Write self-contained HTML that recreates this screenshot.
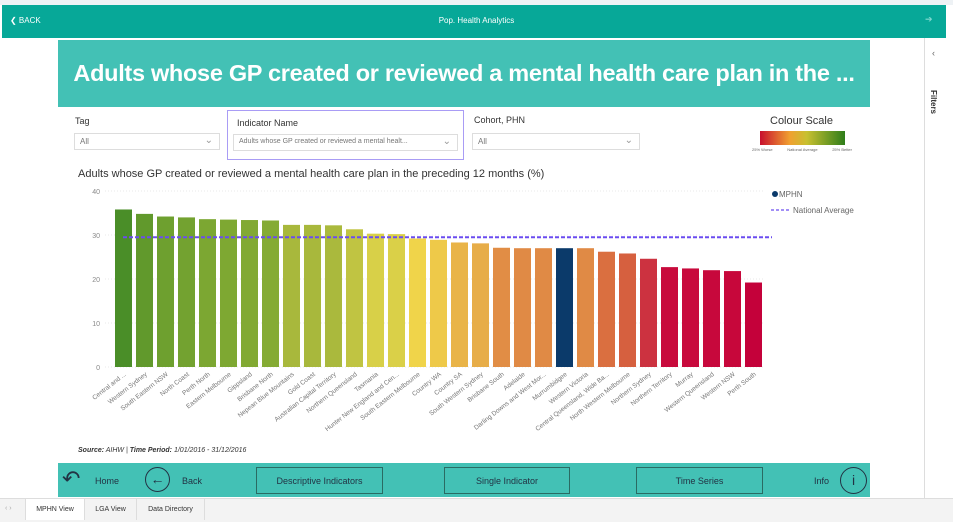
<!DOCTYPE html>
<html><head><meta charset="utf-8">
<style>
*{box-sizing:border-box;margin:0;padding:0}
body{width:953px;height:522px;background:#fff;font-family:"Liberation Sans",sans-serif;position:relative;overflow:hidden}
.abs{position:absolute}
.dd{position:absolute;border:1px solid #ddd;height:17px;font-size:8px;color:#777;padding:3px 5px;background:#fff}
.dd span{position:absolute;right:6px;top:1px;font-size:10px;color:#999}
.navbtn{position:absolute;top:467px;height:27px;border:1px solid #2a6b63;color:#234;font-size:9px;text-align:center;line-height:26px}
</style></head><body>
<div class="abs" style="left:0;top:0;width:953px;height:5px;background:#eef2f5"></div>
<div class="abs" style="left:2px;top:5px;width:944px;height:33px;background:#07a898"></div>
<div class="abs" style="left:10px;top:16px;color:#fff;font-size:8px">❮ BACK</div>
<div class="abs" style="left:0;width:953px;top:16px;text-align:center;color:#fff;font-size:8px">Pop. Health Analytics</div>
<div class="abs" style="left:925px;top:14px;color:#7fd8cf;font-size:9px">➔</div>
<div class="abs" style="left:924px;top:38px;width:29px;height:460px;border-left:1px solid #ddd;background:#fff"></div>
<div class="abs" style="left:929px;top:90px;font-size:8px;font-weight:bold;writing-mode:vertical-rl;color:#333">Filters</div>
<div class="abs" style="left:932px;top:48px;font-size:9px;color:#666">‹</div>
<div class="abs" style="left:58px;top:40px;width:812px;height:67px;background:#43c1b5"></div>
<div class="abs" style="left:58px;top:60px;width:812px;text-align:center;color:#fff;font-size:23.5px;font-weight:bold;white-space:nowrap;letter-spacing:-0.3px">Adults whose GP created or reviewed a mental health care plan in the ...</div>
<div class="abs" style="left:75px;top:116px;font-size:9px;color:#333">Tag</div>
<div class="dd" style="left:74px;top:133px;width:146px">All<span>⌄</span></div>
<div class="abs" style="left:227px;top:110px;width:237px;height:50px;border:1px solid #a99cf5"></div>
<div class="abs" style="left:237px;top:118px;font-size:9px;color:#333">Indicator Name</div>
<div class="dd" style="left:233px;top:134px;width:225px;font-size:7px">Adults whose GP created or reviewed a mental healt...<span>⌄</span></div>
<div class="abs" style="left:474px;top:115px;font-size:9px;color:#333">Cohort, PHN</div>
<div class="dd" style="left:472px;top:133px;width:168px">All<span>⌄</span></div>
<div class="abs" style="left:770px;top:115px;font-size:11px;color:#333">Colour Scale</div>
<div class="abs" style="left:760px;top:131px;width:85px;height:14px;background:linear-gradient(90deg,#c8102e,#f0a030 35%,#c8c030 55%,#2e7d1a)"></div>
<div class="abs" style="left:752px;top:147px;width:100px;font-size:4px;color:#666;display:flex;justify-content:space-between"><span>25% Worse</span><span>National Average</span><span>25% Better</span></div>
<div class="abs" style="left:78px;top:168px;font-size:11px;color:#333">Adults whose GP created or reviewed a mental health care plan in the preceding 12 months (%)</div>
<svg class="abs" id="chart" style="left:0;top:0" width="953" height="522"></svg>
<div class="abs" style="left:78px;top:447px;font-size:7px;color:#333;font-style:italic"><b>Source:</b> AIHW | <b>Time Period:</b> 1/01/2016 - 31/12/2016</div>
<div class="abs" style="left:58px;top:463px;width:812px;height:34px;background:#43c1b5"></div>
<div class="abs" style="left:62px;top:466px;font-size:22px;color:#234">↶</div>
<div class="abs" style="left:95px;top:476px;font-size:9px;color:#234">Home</div>
<div class="abs" style="left:145px;top:467px;width:25px;height:25px;border:1.5px solid #234;border-radius:50%;text-align:center;line-height:22px;font-size:14px;color:#234">←</div>
<div class="abs" style="left:182px;top:476px;font-size:9px;color:#234">Back</div>
<div class="navbtn" style="left:256px;width:127px">Descriptive Indicators</div>
<div class="navbtn" style="left:444px;width:126px">Single Indicator</div>
<div class="navbtn" style="left:636px;width:127px">Time Series</div>
<div class="abs" style="left:814px;top:476px;font-size:9px;color:#234">Info</div>
<div class="abs" style="left:840px;top:467px;width:27px;height:27px;border:1.5px solid #234;border-radius:50%;text-align:center;line-height:24px;font-size:14px;color:#234">i</div>
<div class="abs" style="left:0;top:498px;width:953px;height:24px;background:#f3f3f3;border-top:1px solid #ddd"></div>
<div class="abs" style="left:5px;top:505px;font-size:7px;color:#aaa">‹ ›</div>
<div class="abs" style="left:25px;top:499px;width:60px;height:21px;border-left:1px solid #ddd;border-right:1px solid #ddd;font-size:7px;text-align:center;line-height:21px;color:#333;background:#fff">MPHN View</div>
<div class="abs" style="left:85px;top:499px;width:52px;height:21px;border-right:1px solid #ddd;font-size:7px;text-align:center;line-height:21px;color:#333">LGA View</div>
<div class="abs" style="left:137px;top:499px;width:68px;height:21px;border-right:1px solid #ddd;font-size:7px;text-align:center;line-height:21px;color:#333">Data Directory</div>
<script>
const categories=["Central and ...","Western Sydney","South Eastern NSW","North Coast","Perth North","Eastern Melbourne","Gippsland","Brisbane North","Nepean Blue Mountains","Gold Coast","Australian Capital Territory","Northern Queensland","Tasmania","Hunter New England and Cen...","South Eastern Melbourne","Country WA","Country SA","South Western Sydney","Brisbane South","Adelaide","Darling Downs and West Mor...","Murrumbidgee","Western Victoria","Central Queensland, Wide Ba...","North Western Melbourne","Northern Sydney","Northern Territory","Murray","Western Queensland","Western NSW","Perth South"];
const values=[35.8,34.8,34.2,34.0,33.6,33.5,33.4,33.3,32.3,32.3,32.2,31.3,30.3,30.2,29.2,28.9,28.3,28.1,27.1,27.0,27.0,27.0,27.0,26.2,25.8,24.6,22.7,22.4,22.0,21.8,19.2];
const nationalAverage=29.5;
const highlighted="Murrumbidgee";
const yTicks=[0,10,20,30,40];
const svg=document.getElementById('chart');
const NS='http://www.w3.org/2000/svg';
const y0=367,y1=191,yMax=40;
const y=v=>y0-(v/yMax)*(y0-y1);
const x0=115,step=21,bw=17;
const x=i=>x0+i*step;
const stops=[[19,[196,0,58]],[22.8,[200,10,60]],[24.6,[204,50,64]],[26,[216,104,63]],[27,[224,138,69]],[28.2,[232,176,72]],[29.2,[240,212,74]],[30.3,[216,208,72]],[32.3,[168,184,60]],[33.5,[126,168,50]],[35.8,[74,142,40]]];
function col(v){if(v<=stops[0][0])return 'rgb('+stops[0][1]+')';for(let i=1;i<stops.length;i++){if(v<=stops[i][0]){const a=stops[i-1],b=stops[i],t=(v-a[0])/(b[0]-a[0]);return 'rgb('+a[1].map((c,k)=>Math.round(c+(b[1][k]-c)*t)).join(',')+')';}}return 'rgb('+stops[stops.length-1][1]+')';}
function el(t,a){const e=document.createElementNS(NS,t);for(const k in a)e.setAttribute(k,a[k]);svg.appendChild(e);return e;}
yTicks.forEach(t=>{
 const g=el('line',{x1:105,x2:765,y1:y(t),y2:y(t),stroke:'#e8e8e8','stroke-dasharray':'1,2'});
 
 
 const l=el('text',{x:100,y:y(t)+3,'text-anchor':'end','font-size':7,fill:'#888'});l.textContent=t;
 
 
});
categories.forEach((c,i)=>{
 const v=values[i];
 const r=el('rect',{x:x(i),y:y(v),width:bw,height:y0-y(v),fill:c===highlighted?'#0b3a6a':col(v)});
 
 
 const cx=x(i)+bw/2+3;
 const t=el('text',{x:cx,y:y0+8,'text-anchor':'end','font-size':6.5,fill:'#777',transform:`rotate(-38 ${cx} ${y0+8})`});t.textContent=c;
 
 
});
const na=el('line',{x1:x(0)+8,x2:x(categories.length-1)+bw+10,y1:y(nationalAverage),y2:y(nationalAverage),stroke:'#6a4cf0','stroke-width':2,'stroke-dasharray':'4,2'});


const lc=el('circle',{cx:775,cy:194,r:3,fill:'#0b3a6a'});


const lt=el('text',{x:779,y:197,'font-size':8,fill:'#666'});lt.textContent='MPHN';


const ll=el('line',{x1:771,x2:790,y1:210,y2:210,stroke:'#6a4cf0','stroke-width':1.2,'stroke-dasharray':'3,2'});


const lt2=el('text',{x:793,y:213,'font-size':8,fill:'#666'});lt2.textContent='National Average';


</script>
</body></html>
